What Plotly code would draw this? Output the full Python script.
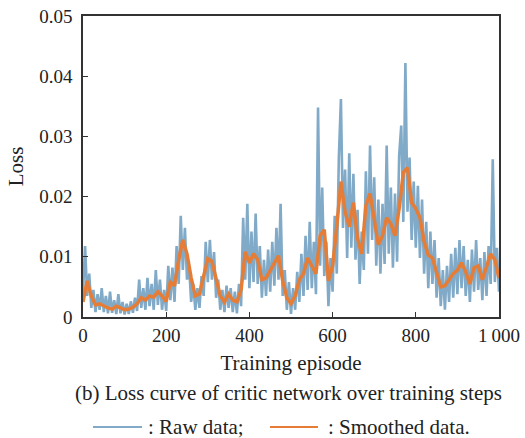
import plotly.graph_objects as go

# Raw critic loss, sampled every 5 episodes
raw_episodes = list(range(0, 1001, 5))
raw_loss = [
    0.0040, 0.0118, 0.0035, 0.0072, 0.0015, 0.0045, 0.0008, 0.0038, 0.0012, 0.0048,
    0.0008, 0.0035, 0.0006, 0.0042, 0.0007, 0.0028, 0.0005, 0.0038, 0.0006, 0.0025,
    0.0004, 0.0022, 0.0005, 0.0026, 0.0007, 0.0032, 0.0010, 0.0062, 0.0015, 0.0048,
    0.0012, 0.0065, 0.0018, 0.0055, 0.0012, 0.0078, 0.0020, 0.0062, 0.0012, 0.0045,
    0.0010, 0.0085, 0.0028, 0.0082, 0.0025, 0.0118, 0.0055, 0.0168, 0.0078, 0.0148,
    0.0062, 0.0085, 0.0025, 0.0055, 0.0012, 0.0048, 0.0015, 0.0068, 0.0035, 0.0125,
    0.0058, 0.0128, 0.0062, 0.0108, 0.0032, 0.0062, 0.0012, 0.0045, 0.0008, 0.0052,
    0.0015, 0.0048, 0.0008, 0.0042, 0.0006, 0.0055, 0.0018, 0.0165, 0.0062, 0.0188,
    0.0048, 0.0142, 0.0058, 0.0172, 0.0055, 0.0118, 0.0032, 0.0095, 0.0035, 0.0112,
    0.0042, 0.0125, 0.0052, 0.0148, 0.0062, 0.0188, 0.0035, 0.0078, 0.0012, 0.0058,
    0.0005, 0.0048, 0.0012, 0.0075, 0.0025, 0.0105, 0.0035, 0.0135, 0.0045, 0.0158,
    0.0048, 0.0125, 0.0038, 0.0348, 0.0085, 0.0215, 0.0068, 0.0125, 0.0018, 0.0098,
    0.0042, 0.0168, 0.0072, 0.0265, 0.0362, 0.0148, 0.0245, 0.0098, 0.0272, 0.0115,
    0.0238, 0.0095, 0.0178, 0.0055, 0.0142, 0.0078, 0.0242, 0.0105, 0.0285, 0.0128,
    0.0232, 0.0085, 0.0195, 0.0072, 0.0188, 0.0088, 0.0285, 0.0105, 0.0215, 0.0082,
    0.0205, 0.0092, 0.0268, 0.0318, 0.0158, 0.0422, 0.0175, 0.0265, 0.0128, 0.0225,
    0.0115, 0.0218, 0.0098, 0.0195, 0.0072, 0.0158, 0.0048, 0.0142, 0.0055, 0.0128,
    0.0032, 0.0098, 0.0018, 0.0078, 0.0012, 0.0085, 0.0025, 0.0105, 0.0032, 0.0115,
    0.0038, 0.0128, 0.0048, 0.0118, 0.0035, 0.0095, 0.0025, 0.0112, 0.0042, 0.0128,
    0.0045, 0.0098, 0.0028, 0.0108, 0.0035, 0.0118, 0.0055, 0.0262, 0.0058, 0.0115,
    0.0042,
]

# Smoothed critic loss, sampled every 10 episodes
smooth_episodes = list(range(0, 1001, 10))
smooth_loss = [
    0.0025, 0.0060, 0.0035, 0.0020, 0.0022, 0.0018, 0.0015, 0.0013, 0.0018, 0.0015,
    0.0012, 0.0013, 0.0016, 0.0022, 0.0032, 0.0028, 0.0035, 0.0033, 0.0042, 0.0035,
    0.0026, 0.0058, 0.0052, 0.0095, 0.0128, 0.0105, 0.0065, 0.0035, 0.0038, 0.0068,
    0.0097, 0.0092, 0.0062, 0.0035, 0.0025, 0.0038, 0.0028, 0.0025, 0.0045, 0.0108,
    0.0090, 0.0105, 0.0095, 0.0062, 0.0065, 0.0078, 0.0090, 0.0102, 0.0060, 0.0032,
    0.0022, 0.0035, 0.0062, 0.0072, 0.0098, 0.0085, 0.0072, 0.0135, 0.0145, 0.0060,
    0.0085, 0.0150, 0.0225, 0.0175, 0.0150, 0.0190, 0.0130, 0.0105, 0.0185, 0.0205,
    0.0165, 0.0120, 0.0135, 0.0165, 0.0155, 0.0135, 0.0180, 0.0240, 0.0248, 0.0190,
    0.0180, 0.0165, 0.0125, 0.0103, 0.0098, 0.0075, 0.0050, 0.0052, 0.0062, 0.0072,
    0.0078, 0.0090, 0.0075, 0.0055, 0.0082, 0.0085, 0.0062, 0.0085, 0.0105, 0.0095,
    0.0065,
]

y_ticks = [0, 0.01, 0.02, 0.03, 0.04, 0.05]
y_tick_text = ["0", "0.01", "0.02", "0.03", "0.04", "0.05"]
x_ticks = [0, 200, 400, 600, 800, 1000]
x_tick_text = ["0", "200", "400", "600", "800", "1\u2009000"]

RAW_COLOR = "#80aac7"
SMOOTH_COLOR = "#e67d37"
TEXT_COLOR = "#222222"
FONT = "Liberation Serif"

fig = go.Figure()
fig.add_trace(go.Scatter(
    x=raw_episodes, y=raw_loss, mode="lines",
    line=dict(color=RAW_COLOR, width=2.6), showlegend=False,
))
fig.add_trace(go.Scatter(
    x=smooth_episodes, y=smooth_loss, mode="lines",
    line=dict(color=SMOOTH_COLOR, width=3.5), showlegend=False,
))

axis_common = dict(
    showgrid=False, zeroline=False, showline=True, linecolor="#333333",
    linewidth=1.5, mirror=True, ticks="inside", ticklen=5, tickwidth=1,
    tickcolor="#333333", tickfont=dict(family=FONT, size=19, color=TEXT_COLOR),
    automargin=False,
)

fig.update_xaxes(
    range=[0, 1000], tickvals=x_ticks, ticktext=x_tick_text,
    title=dict(text="Training episode", font=dict(family=FONT, size=21, color=TEXT_COLOR), standoff=11),
    **axis_common,
)
fig.update_yaxes(
    range=[0, 0.05], tickvals=y_ticks, ticktext=y_tick_text, ticklabelstandoff=5,
    title=dict(text="Loss", font=dict(family=FONT, size=21, color=TEXT_COLOR), standoff=10),
    **axis_common,
)

# Caption and legend line beneath the plot
LEGEND_Y = (317 - 427) / 301
fig.add_annotation(
    x=(288 - 83) / 416, y=(317 - 393) / 301, xref="paper", yref="paper", showarrow=False,
    text="(b) Loss curve of critic network over training steps",
    font=dict(family=FONT, size=21, color=TEXT_COLOR), xanchor="center", yanchor="middle",
)
fig.add_shape(type="line", xref="paper", yref="paper",
              x0=(93 - 83) / 416, x1=(142 - 83) / 416, y0=LEGEND_Y, y1=LEGEND_Y,
              line=dict(color=RAW_COLOR, width=2))
fig.add_annotation(
    x=(146 - 83) / 416, y=LEGEND_Y, xref="paper", yref="paper", showarrow=False,
    text=": Raw data;", font=dict(family=FONT, size=21, color=TEXT_COLOR),
    xanchor="left", yanchor="middle",
)
fig.add_shape(type="line", xref="paper", yref="paper",
              x0=(270 - 83) / 416, x1=(318 - 83) / 416, y0=LEGEND_Y, y1=LEGEND_Y,
              line=dict(color=SMOOTH_COLOR, width=2))
fig.add_annotation(
    x=(326 - 83) / 416, y=LEGEND_Y, xref="paper", yref="paper", showarrow=False,
    text=": Smoothed data.", font=dict(family=FONT, size=21, color=TEXT_COLOR),
    xanchor="left", yanchor="middle",
)

fig.update_layout(
    width=525, height=438,
    margin=dict(l=83, r=26, t=16, b=121),
    paper_bgcolor="white", plot_bgcolor="white",
    font=dict(family=FONT),
)

fig.write_html("out.html")
